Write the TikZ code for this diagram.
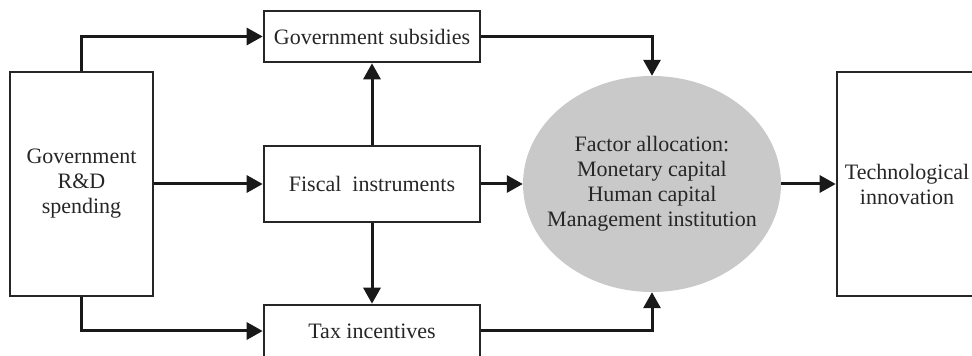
\documentclass[tikz,border=0pt]{standalone}
\usepackage{fontspec}
\setmainfont{Liberation Serif}
\usepackage{tikz}
\usetikzlibrary{arrows.meta}
\usetikzlibrary{positioning,shapes.geometric}
\colorlet{allocgray}{black!21}

\begin{document}
\begin{tikzpicture}[
x=1pt,y=1pt,
every node/.style={font=\fontsize{22}{25}\selectfont, align=center, text=black!85},
MyBox/.style={draw=black!85,line width=2.6pt,inner sep=0pt},
MidBox/.style={MyBox,minimum width=216pt},
MyArrow/.style={-{Triangle[length=16pt,width=17pt]},line width=3pt,draw=black!90}
]
\useasboundingbox (0,0) rectangle (972,356);
\clip (0,0) rectangle (972,356);

% outer boxes
\node[MyBox, minimum width=143pt, minimum height=224pt] (spend) at (81.5,172) {Government\\R\&D\\spending};
\node[MyBox, minimum width=140pt, minimum height=224pt] (tech) at (907,172) {Technological\\innovation};

% fiscal instruments in the middle
\node[MidBox, minimum height=51pt] (subs) at (372,319.5) {Government subsidies};
\node[MidBox, minimum height=76pt] (fisc) at (372,172) {Fiscal~ instruments};
\node[MidBox, minimum height=52pt] (tax) at (372,25) {Tax incentives};

\node[ellipse, fill=allocgray, minimum width=258pt, minimum height=216pt, inner xsep=-14pt, inner ysep=0pt] (alloc) at (652,172)
{Factor allocation:\\Monetary capital\\Human capital\\Management institution};

\draw[MyArrow] (spend.north) |- (subs.west);
\draw[MyArrow] (spend.east) -- (fisc.west);
\draw[MyArrow] (spend.south) |- (tax.west);

\draw[MyArrow] (fisc.north) -- (subs.south);
\draw[MyArrow] (fisc.south) -- (tax.north);

\draw[MyArrow] (subs.east) -| (alloc.north);
\draw[MyArrow] (fisc.east) -- (alloc.west);
\draw[MyArrow] (tax.east) -| (alloc.south);

\draw[MyArrow] (alloc.east) -- (tech.west);

\end{tikzpicture}
\end{document}
